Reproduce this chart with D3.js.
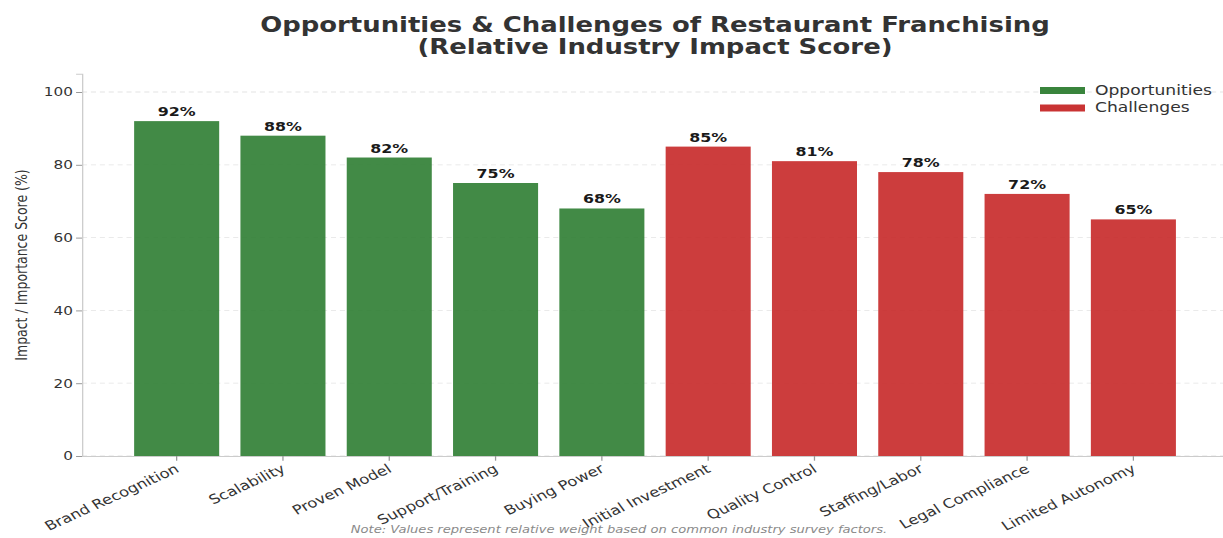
<!DOCTYPE html>
<html>
<head>
<meta charset="utf-8">
<script src="https://cdn.jsdelivr.net/npm/d3@7"></script>
<style>
  body { margin: 0; background: #fff; }
  svg { display: block; }
  text { font-family: "DejaVu Sans", sans-serif; }
</style>
</head>
<body>
<script>
// chart data
var categories = ["Brand Recognition", "Scalability", "Proven Model", "Support/Training", "Buying Power",
                  "Initial Investment", "Quality Control", "Staffing/Labor", "Legal Compliance", "Limited Autonomy"];
var scores = [92, 88, 82, 75, 68, 85, 81, 78, 72, 65];
var groups = ["Opportunities", "Opportunities", "Opportunities", "Opportunities", "Opportunities",
              "Challenges", "Challenges", "Challenges", "Challenges", "Challenges"];
var legendLabels = ["Opportunities", "Challenges"];
var yTicks = [0, 20, 40, 60, 80, 100];

var colors = { Opportunities: "#2E7D32", Challenges: "#C62828" };

// the picture is wider than it is drawn: stretch x
var stretch = 1.27;
var svgWidth = 1223;
var svgHeight = 538;
var vbWidth = svgWidth / stretch;

var margin = { left: 64.6, top: 73.8, bottom: 456 };

var svg = d3.select("body")
  .append("svg")
  .attr("width", svgWidth)
  .attr("height", svgHeight)
  .attr("viewBox", `0 0 ${vbWidth} ${svgHeight}`)
  .attr("preserveAspectRatio", "none");

var xScale = d3.scaleBand()
  .domain(categories)
  .range([margin.left, 1228 / stretch])
  .paddingInner(0.2)
  .paddingOuter(0.49);

var yScale = d3.scaleLinear()
  .domain([0, 105])
  .range([margin.bottom, margin.top]);

// grid lines
svg.append("g")
  .selectAll("line")
  .data(yTicks)
  .enter()
  .append("line")
  .attr("x1", margin.left)
  .attr("x2", vbWidth)
  .attr("y1", d => yScale(d))
  .attr("y2", d => yScale(d))
  .attr("stroke", "#e3e3e3")
  .attr("stroke-width", 0.8)
  .attr("stroke-dasharray", "4,3");

// bars
svg.append("g")
  .selectAll("rect")
  .data(scores)
  .enter()
  .append("rect")
  .attr("x", (d, i) => xScale(categories[i]))
  .attr("y", d => yScale(d))
  .attr("width", xScale.bandwidth())
  .attr("height", d => yScale(0) - yScale(d))
  .attr("fill", (d, i) => colors[groups[i]])
  .attr("fill-opacity", 0.9);

// value labels
svg.append("g")
  .selectAll("text")
  .data(scores)
  .enter()
  .append("text")
  .attr("x", (d, i) => xScale(categories[i]) + xScale.bandwidth() / 2)
  .attr("y", d => yScale(d) - 5)
  .attr("text-anchor", "middle")
  .style("font-size", "12.5px")
  .style("font-weight", "bold")
  .style("fill", "#1a1a1a")
  .text(d => d + "%");

// y axis
var yAxis = svg.append("g")
  .attr("transform", `translate(${margin.left},0)`)
  .call(d3.axisLeft(yScale).tickValues(yTicks).tickSize(4.7).tickPadding(2.5));
yAxis.select(".domain").attr("stroke", "#cccccc");
yAxis.selectAll(".tick line").attr("stroke", "#999");
yAxis.selectAll(".tick text")
  .style("font-size", "12px")
  .style("fill", "#333")
  .style("font-family", "DejaVu Sans, sans-serif");

// x axis
var xAxis = svg.append("g")
  .attr("transform", `translate(0,${margin.bottom})`)
  .call(d3.axisBottom(xScale).tickSize(4.7).tickSizeOuter(0));
xAxis.select(".domain")
  .attr("d", `M${margin.left},0.5H${vbWidth}`)
  .attr("stroke", "#cccccc");
xAxis.selectAll(".tick line").attr("stroke", "#999");
xAxis.selectAll(".tick text")
  .attr("text-anchor", "end")
  .attr("dy", "0.35em")
  .attr("y", 0)
  .attr("transform", "translate(0.5,11.5) rotate(-30)")
  .style("font-size", "13px")
  .style("fill", "#333")
  .style("font-family", "DejaVu Sans, sans-serif");

// y label
svg.append("text")
  .attr("transform", `translate(${21},${265}) rotate(-90)`)
  .attr("text-anchor", "middle")
  .style("font-size", "12.5px")
  .style("fill", "#333")
  .text("Impact / Importance Score (%)");

// title
var title = svg.append("text")
  .attr("text-anchor", "middle")
  .style("font-size", "20.4px")
  .style("font-weight", "bold")
  .style("fill", "#333");
title.append("tspan").attr("x", 655 / stretch).attr("y", 32)
  .text("Opportunities & Challenges of Restaurant Franchising");
title.append("tspan").attr("x", 655 / stretch).attr("y", 54)
  .text("(Relative Industry Impact Score)");

// legend
var legend = svg.append("g")
  .attr("transform", `translate(${1040 / stretch},${87})`);
legend.selectAll("rect")
  .data(legendLabels)
  .enter()
  .append("rect")
  .attr("x", 0)
  .attr("y", (d, i) => i * 17.5)
  .attr("width", 45 / stretch)
  .attr("height", 7)
  .attr("fill", d => colors[d])
  .attr("fill-opacity", 0.95);
legend.selectAll("text")
  .data(legendLabels)
  .enter()
  .append("text")
  .attr("x", 55 / stretch)
  .attr("y", (d, i) => i * 17.5 + 8)
  .style("font-size", "13.5px")
  .style("fill", "#333")
  .text(d => d);

// footnote
svg.append("text")
  .attr("x", 619 / stretch)
  .attr("y", 533)
  .attr("text-anchor", "middle")
  .style("font-size", "10.3px")
  .style("font-style", "italic")
  .style("fill", "#8a8a8a")
  .text("Note: Values represent relative weight based on common industry survey factors.");
</script>
</body>
</html>
